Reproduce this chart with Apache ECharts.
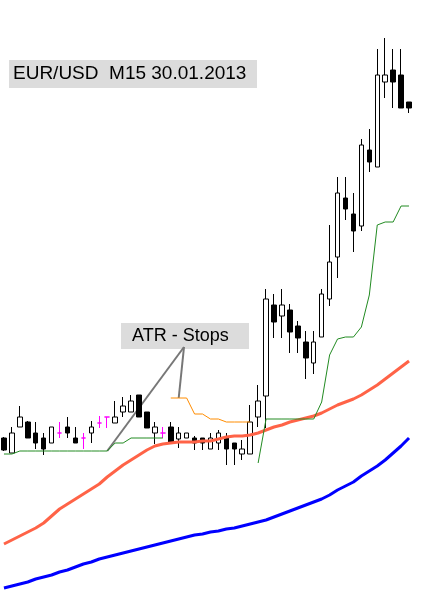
<!DOCTYPE html>
<html>
<head>
<meta charset="utf-8">
<script src="https://cdn.jsdelivr.net/npm/echarts@6/dist/echarts.min.js"></script>
<style>
  html, body { margin: 0; padding: 0; background: #fff; }
  #chart { width: 431px; height: 608px; }
</style>
</head>
<body>
<div id="chart"></div>
<script>
// EUR/USD M15, 30.01.2013 - 52 bars
const opens = [1.34724, 1.34694, 1.34746, 1.34756, 1.34734, 1.34724, 1.34714, 1.34734, 1.34746, 1.34724,
  1.34724, 1.34734, 1.34754, 1.34766, 1.34754, 1.34776, 1.34776, 1.34810, 1.34776, 1.34734,
  1.34734, 1.34746, 1.34722, 1.34724, 1.34724, 1.34724, 1.34702, 1.34714, 1.34724, 1.34714,
  1.34692, 1.34692, 1.34766, 1.34808, 1.34990, 1.34968, 1.34980, 1.34948, 1.34916, 1.34874,
  1.34926, 1.35002, 1.35086, 1.35204, 1.35172, 1.35148, 1.35300, 1.35266, 1.35436, 1.35460,
  1.35450, 1.35396];
const closes = [1.34700, 1.34734, 1.34766, 1.34724, 1.34714, 1.34702, 1.34746, 1.34734, 1.34734, 1.34714,
  1.34724, 1.34746, 1.34754, 1.34766, 1.34766, 1.34788, 1.34798, 1.34766, 1.34744, 1.34746,
  1.34734, 1.34714, 1.34734, 1.34734, 1.34714, 1.34714, 1.34724, 1.34734, 1.34702, 1.34702,
  1.34702, 1.34756, 1.34798, 1.35002, 1.34956, 1.34990, 1.34936, 1.34924, 1.34884, 1.34916,
  1.35012, 1.35076, 1.35214, 1.35182, 1.35138, 1.35310, 1.35276, 1.35450, 1.35450, 1.35436,
  1.35384, 1.35384];
const lows = [1.34698, 1.34694, 1.34746, 1.34724, 1.34702, 1.34690, 1.34714, 1.34724, 1.34724, 1.34714,
  1.34702, 1.34714, 1.34744, 1.34744, 1.34754, 1.34766, 1.34776, 1.34766, 1.34744, 1.34712,
  1.34724, 1.34714, 1.34704, 1.34724, 1.34700, 1.34700, 1.34702, 1.34700, 1.34670, 1.34670,
  1.34680, 1.34692, 1.34746, 1.34744, 1.34924, 1.34924, 1.34894, 1.34894, 1.34842, 1.34852,
  1.34926, 1.34988, 1.35044, 1.35160, 1.35096, 1.35138, 1.35256, 1.35266, 1.35404, 1.35384,
  1.35384, 1.35374];
const highs = [1.34726, 1.34746, 1.34788, 1.34758, 1.34756, 1.34734, 1.34746, 1.34756, 1.34766, 1.34746,
  1.34734, 1.34758, 1.34768, 1.34766, 1.34798, 1.34806, 1.34810, 1.34810, 1.34776, 1.34756,
  1.34746, 1.34756, 1.34746, 1.34734, 1.34728, 1.34724, 1.34734, 1.34740, 1.34734, 1.34714,
  1.34720, 1.34790, 1.34830, 1.35022, 1.35012, 1.35022, 1.34992, 1.34958, 1.34938, 1.34938,
  1.35022, 1.35150, 1.35246, 1.35246, 1.35214, 1.35322, 1.35342, 1.35502, 1.35524, 1.35502,
  1.35502, 1.35396];

// ATR stop lines (green = long stop, orange = short stop)
const stopLong = [1.34692, 1.34692, 1.34698, 1.34698, 1.34698, 1.34698, 1.34698, 1.34698, 1.34698, 1.34698,
  1.34698, 1.34698, 1.34698, 1.34698, 1.34714, 1.34714, 1.34724, 1.34724, 1.34724, 1.34724,
  1.34724, null, null, null, null, null, null, null, null, null,
  null, null, 1.34674, 1.34762, 1.34762, 1.34762, 1.34762, 1.34762, 1.34762, 1.34762,
  1.34796, 1.34890, 1.34922, 1.34926, 1.34926, 1.34946, 1.35010, 1.35150, 1.35156, 1.35156,
  1.35188, 1.35188];
const stopShort = [null, null, null, null, null, null, null, null, null, null,
  null, null, null, null, null, null, null, null, null, null,
  null, 1.34804, 1.34804, 1.34804, 1.34772, 1.34772, 1.34762, 1.34762, 1.34756, 1.34756,
  1.34756, 1.34756, null, null, null, null, null, null, null, null,
  null, null, null, null, null, null, null, null, null, null,
  null, null];

// moving averages
const maFast = [1.34512, 1.34520, 1.34528, 1.34536, 1.34544, 1.34554, 1.34568, 1.34582, 1.34592, 1.34602,
  1.34612, 1.34622, 1.34632, 1.34646, 1.34658, 1.34670, 1.34680, 1.34690, 1.34700, 1.34708,
  1.34712, 1.34714, 1.34716, 1.34716, 1.34716, 1.34718, 1.34718, 1.34722, 1.34726, 1.34728,
  1.34728, 1.34730, 1.34734, 1.34740, 1.34746, 1.34750, 1.34756, 1.34760, 1.34764, 1.34768,
  1.34774, 1.34782, 1.34790, 1.34796, 1.34802, 1.34810, 1.34820, 1.34830, 1.34842, 1.34854,
  1.34866, 1.34878];
const maSlow = [1.34424, 1.34428, 1.34432, 1.34436, 1.34442, 1.34446, 1.34450, 1.34456, 1.34460, 1.34466,
  1.34472, 1.34476, 1.34482, 1.34486, 1.34490, 1.34494, 1.34498, 1.34502, 1.34506, 1.34510,
  1.34514, 1.34518, 1.34522, 1.34526, 1.34530, 1.34532, 1.34536, 1.34538, 1.34542, 1.34544,
  1.34548, 1.34552, 1.34556, 1.34560, 1.34566, 1.34572, 1.34578, 1.34584, 1.34590, 1.34596,
  1.34602, 1.34610, 1.34620, 1.34628, 1.34636, 1.34648, 1.34658, 1.34668, 1.34680, 1.34694,
  1.34708, 1.34724];

const bars = opens.map((v, i) => String(i + 1));

const chart = echarts.init(document.getElementById('chart'), null, { renderer: 'canvas' });

const candles = opens.map((o, i) => {
  const item = { value: [o, closes[i], lows[i], highs[i]] };
  if (o === closes[i]) {
    // doji bars are painted magenta
    item.itemStyle = { color: '#ff00ff', color0: '#ff00ff', borderColor: '#ff00ff', borderColor0: '#ff00ff' };
  }
  return item;
});

chart.setOption({
  animation: false,
  backgroundColor: '#fff',
  grid: { left: -3, right: 18, top: 0, bottom: 0 },
  xAxis: {
    type: 'category',
    data: bars,
    boundaryGap: true,
    show: false
  },
  yAxis: {
    type: 'value',
    min: 1.34384,
    max: 1.356,
    show: false,
    splitLine: { show: false }
  },
  series: [
    {
      name: 'MA slow',
      type: 'line',
      data: maSlow,
      symbol: 'none',
      lineStyle: { color: '#0000ff', width: 3 }
    },
    {
      name: 'EURUSD',
      type: 'candlestick',
      data: candles,
      barWidth: 5,
      itemStyle: {
        color: '#ffffff',
        color0: '#000000',
        borderColor: '#000000',
        borderColor0: '#000000',
        borderWidth: 1
      }
    },
    {
      name: 'MA fast',
      type: 'line',
      data: maFast,
      symbol: 'none',
      lineStyle: { color: '#ff6347', width: 3 }
    },
    {
      name: 'ATR stop long',
      type: 'line',
      data: stopLong,
      symbol: 'none',
      connectNulls: false,
      lineStyle: { color: '#228b22', width: 1 }
    },
    {
      name: 'ATR stop short',
      type: 'line',
      data: stopShort,
      symbol: 'none',
      connectNulls: false,
      lineStyle: { color: '#ff8c00', width: 1 }
    }
  ]
});

// annotation boxes and pointer lines
const p1 = chart.convertToPixel({ seriesIndex: 3 }, [13, stopLong[13]]);
const p2 = chart.convertToPixel({ seriesIndex: 4 }, [22, stopShort[22]]);
const anchor = [184, 347];

chart.setOption({
  graphic: [
    {
      type: 'group', left: 9, top: 60,
      children: [
        { type: 'rect', shape: { x: 0, y: 0, width: 248, height: 28 }, style: { fill: '#dcdcdc' } },
        { type: 'text', x: 4, y: 14, style: { text: 'EUR/USD  M15 30.01.2013', font: '19px "Liberation Sans", Arial, sans-serif', fill: '#000', textVerticalAlign: 'middle' } }
      ]
    },
    {
      type: 'group', left: 121, top: 323,
      children: [
        { type: 'rect', shape: { x: 0, y: 0, width: 128, height: 26 }, style: { fill: '#dcdcdc' } },
        { type: 'text', x: 11, y: 13, style: { text: 'ATR - Stops', font: '18px "Liberation Sans", Arial, sans-serif', fill: '#000', textVerticalAlign: 'middle' } }
      ]
    },
    {
      type: 'line',
      shape: { x1: anchor[0], y1: anchor[1], x2: p1[0], y2: p1[1] },
      style: { stroke: '#777', lineWidth: 2 }
    },
    {
      type: 'line',
      shape: { x1: anchor[0], y1: anchor[1], x2: p2[0], y2: p2[1] },
      style: { stroke: '#777', lineWidth: 2 }
    }
  ]
});
</script>
</body>
</html>
